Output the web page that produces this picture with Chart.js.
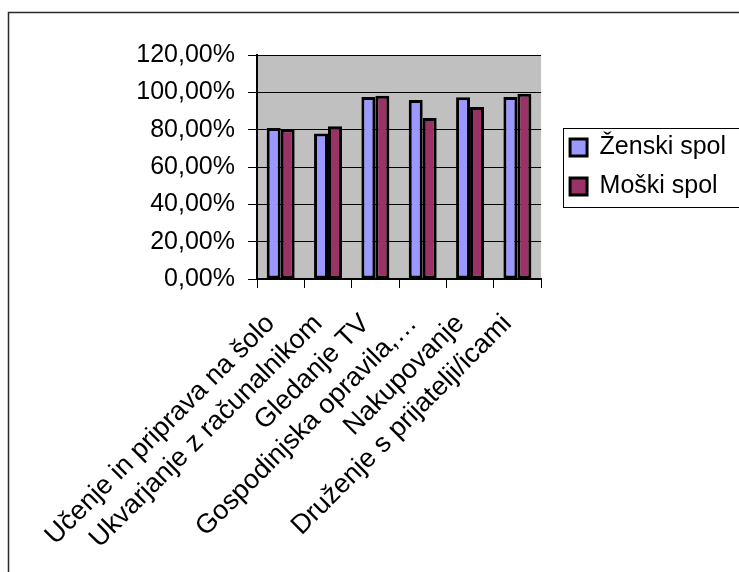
<!DOCTYPE html>
<html>
<head>
<meta charset="utf-8">
<script src="https://cdn.jsdelivr.net/npm/chart.js@4/dist/chart.umd.min.js"></script>
<style>
  html, body { margin: 0; padding: 0; overflow: hidden; background: #fff; }
  canvas { display: block; }
</style>
</head>
<body>
<canvas id="myChart" width="760" height="572"></canvas>
<script>
// categorije (os x)
const kategorije = [
    'Učenje in priprava na šolo',
    'Ukvarjanje z računalnikom',
    'Gledanje TV',
    'Gospodinjska opravila,…',
    'Nakupovanje',
    'Druženje s prijatelji/icami'
];
// vrednosti v odstotkih
const zenskiSpol = [80.9, 77.9, 97.5, 95.9, 97.3, 97.5];
const moskiSpol  = [80.2, 81.8, 98.2, 86.3, 92.1, 99.3];
// os y
const yMin = 0, yMax = 120, yKorak = 20;

const pisava = "'Liberation Sans', Arial, sans-serif";

// siva podlaga, okvir in okvir legende
const okvirji = {
    id: 'okvirji',
    beforeDraw(chart) {
        const ctx = chart.ctx, a = chart.chartArea;
        ctx.save();
        ctx.fillStyle = '#fff';
        ctx.fillRect(0, 0, chart.width, chart.height);
        ctx.strokeStyle = '#2a2a2a';
        ctx.lineWidth = 1.5;
        ctx.strokeRect(8.5, 12.5, 2000, 2000);
        ctx.fillStyle = '#c0c0c0';
        ctx.fillRect(a.left, a.top, a.right - a.left, a.bottom - a.top);
        ctx.restore();
    },
    afterLayout(chart) {
        // legenda je v Excelu nekoliko odmaknjena od grafa
        chart.legend.left += 15;
        chart.legend.right += 15;
    },
    afterDraw(chart) {
        const lg = chart.legend, ctx = chart.ctx;
        const pad = lg.options.labels.padding;
        const colH = lg.columnSizes[0].height;
        const y0 = (lg.top + pad + lg.bottom - colH) / 2;
        ctx.save();
        ctx.strokeStyle = '#000';
        ctx.lineWidth = 1;
        const x = Math.round(lg.left + pad - 7) + 0.5;
        const top = Math.round(y0 - 7) + 0.5;
        const bot = Math.round(y0 + colH - pad + 8) + 0.5;
        ctx.strokeRect(x, top, 400, bot - top);
        ctx.restore();
    }
};

var ctx = document.getElementById('myChart').getContext('2d');
var chart = new Chart(ctx, {
    type: 'bar',
    data: {
        labels: kategorije,
        datasets: [
            {
                label: 'Ženski spol',
                backgroundColor: '#9999ff',
                borderColor: '#000',
                borderWidth: 3,
                borderSkipped: false,
                data: zenskiSpol
            },
            {
                label: 'Moški spol',
                backgroundColor: '#993366',
                borderColor: '#000',
                borderWidth: 3,
                borderSkipped: false,
                data: moskiSpol
            }
        ]
    },
    options: {
        responsive: false,
        animation: false,
        devicePixelRatio: 1,
        layout: { padding: { top: 55, left: 0, right: 39, bottom: 0 } },
        datasets: { bar: { categoryPercentage: 0.59, barPercentage: 1 } },
        scales: {
            x: {
                offset: true,
                grid: { display: true, drawOnChartArea: false, color: '#000', tickLength: 9, offset: true },
                border: { color: '#000', width: 2 },
                ticks: {
                    autoSkip: false,
                    maxRotation: 45,
                    minRotation: 45,
                    color: '#000',
                    padding: 20,
                    labelOffset: -10,
                    font: { family: pisava, size: 27 }
                },
                afterFit(scale) { scale.height = 293; }
            },
            y: {
                min: yMin,
                max: yMax,
                grid: { color: '#000', tickLength: 9 },
                border: { color: '#000', width: 2 },
                ticks: {
                    stepSize: yKorak,
                    color: '#000',
                    padding: 13,
                    font: { family: pisava, size: 25 },
                    callback: v => v.toFixed(2).replace('.', ',') + '%'
                },
                afterFit(scale) { scale.width = 257; }
            }
        },
        plugins: {
            tooltip: { enabled: false },
            legend: {
                position: 'right',
                fullSize: false,
                align: 'center',
                labels: {
                    boxWidth: 17,
                    boxHeight: 17,
                    padding: 14,
                    color: '#000',
                    font: { family: pisava, size: 25 }
                }
            }
        }
    },
    plugins: [okvirji]
});
</script>
</body>
</html>
